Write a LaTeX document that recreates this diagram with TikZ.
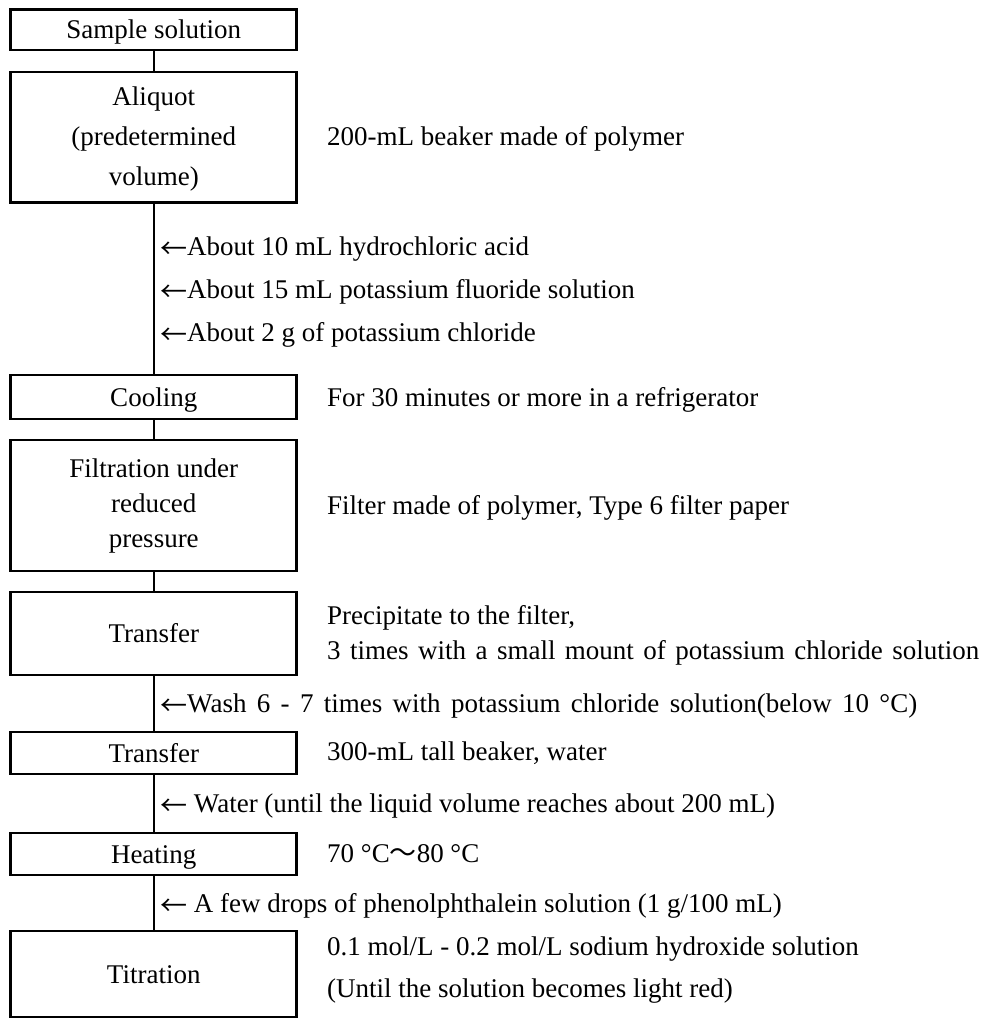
\documentclass[tikz,border=0pt]{standalone}
\usepackage{fontspec}
\setmainfont{Liberation Serif}
\newfontfamily\cjkfont{Noto Sans CJK JP}
\newcommand\larr{\raisebox{-3pt}{\cjkfont ←}}
\tikzset{
  box/.style={draw, line width=2.8pt, minimum width=285.9pt, inner sep=0pt, font=\fontsize{27}{32}\selectfont},
  one/.style={text height=18pt, text depth=0pt},
  conn/.style={line width=2.4pt},
  note/.style={anchor=base west, inner sep=0pt, font=\fontsize{27}{32}\selectfont},
}
\begin{document}
\begin{tikzpicture}[x=1pt,y=-1pt]
\useasboundingbox (0,0) rectangle (982,1019);
% boxes
\node[box, one, minimum height=40.3pt] (b1) at (153.75,29.85) {Sample solution};
\node[box, minimum height=130.5pt] (b2) at (153.75,137.25) {\fontsize{27}{40}\selectfont\begin{tabular}{@{}c@{}}Aliquot\\(predetermined\\volume)\end{tabular}};
\node[box, one, minimum height=44pt] (b3) at (153.75,397) {Cooling};
\node[box, minimum height=131pt] (b4) at (153.75,505.5) {\fontsize{27}{35}\selectfont\begin{tabular}{@{}c@{}}Filtration under\\reduced\\pressure\end{tabular}};
\node[box, one, minimum height=83pt] (b5) at (153.75,633.5) {Transfer};
\node[box, one, minimum height=42pt] (b6) at (153.75,753) {Transfer};
\node[box, one, minimum height=42pt] (b7) at (153.75,854) {Heating};
\node[box, one, minimum height=86pt] (b8) at (153.75,974) {Titration};
% connectors
\draw[conn] (b1.south) -- (b2.north);
\draw[conn] (b2.south) -- (b3.north);
\draw[conn] (b3.south) -- (b4.north);
\draw[conn] (b4.south) -- (b5.north);
\draw[conn] (b5.south) -- (b6.north);
\draw[conn] (b6.south) -- (b7.north);
\draw[conn] (b7.south) -- (b8.north);
% additions along the line
\node[note] (a1) at (160,255) {\larr About 10 mL hydrochloric acid};
\node[note] (a2) at (160,298) {\larr About 15 mL potassium fluoride solution};
\node[note] (a3) at (160,341) {\larr About 2 g of potassium chloride};
\node[note] (a4) at (160,712) {\hbox to 757pt{\larr Wash 6 - 7 times with potassium chloride solution(below 10 °C)}};
\node[note] (a5) at (160,812) {\larr{} Water (until the liquid volume reaches about 200 mL)};
\node[note] (a6) at (160,912) {\larr{} A few drops of phenolphthalein solution (1 g/100 mL)};
% conditions on the right
\node[note] (r2) at (327,146) {200-mL beaker made of polymer};
\node[note] (r3) at (327,406) {For 30 minutes or more in a refrigerator};
\node[note] (r4) at (327,514) {Filter made of polymer, Type 6 filter paper};
\node[note] (r5) at (327,624) {\fontsize{27}{35}\selectfont\begin{tabular}[t]{@{}l@{}}Precipitate to the filter,\\\hbox to 652pt{3 times with a small mount of potassium chloride solution}\end{tabular}};
\node[note] (r6) at (327,760) {300-mL tall beaker, water};
\node[note] (r7) at (327,862) {70 °C{\cjkfont ～}80 °C};
\node[note] (r8) at (327,955) {\fontsize{27}{42}\selectfont\begin{tabular}[t]{@{}l@{}}0.1 mol/L - 0.2 mol/L sodium hydroxide solution\\(Until the solution becomes light red)\end{tabular}};
\end{tikzpicture}
\end{document}
